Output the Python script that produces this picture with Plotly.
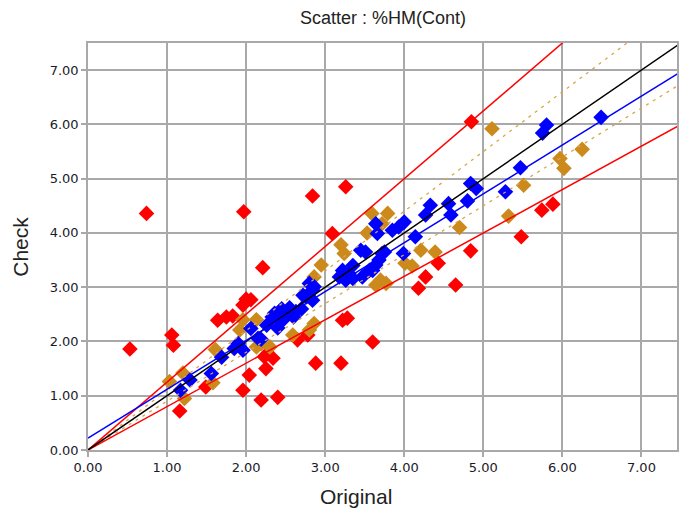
import plotly.graph_objects as go
import numpy as np

# ---- data ----
red_x = [0.53, 0.74, 1.06, 1.08, 1.16, 1.49, 1.64, 1.75, 1.83, 1.96, 2.00, 2.06, 1.97, 1.96, 2.04,
         2.19, 2.21, 2.25, 2.23, 2.34, 2.40, 2.65, 2.78, 2.84, 2.88, 3.09, 3.20, 3.22, 3.28, 3.26,
         3.60, 4.18, 4.27, 4.43, 4.65, 4.84, 4.85, 5.48, 5.74, 5.88]
red_y = [1.86, 4.36, 2.12, 1.93, 0.72, 1.16, 2.39, 2.45, 2.47, 2.67, 2.78, 2.77, 4.39, 1.10, 1.38,
         0.92, 3.36, 1.50, 1.72, 1.69, 0.97, 2.03, 2.12, 4.68, 1.60, 3.99, 1.60, 2.39, 2.43, 4.85,
         1.99, 2.98, 3.19, 3.44, 3.04, 3.67, 6.05, 3.93, 4.42, 4.53]

orange_x = [1.03, 1.20, 1.22, 1.58, 1.61, 1.92, 1.96, 2.13, 2.13, 2.30, 2.19, 2.59, 2.80, 2.86,
            2.86, 2.95, 3.20, 3.24, 3.53, 3.59, 3.64, 3.70, 3.77, 3.72, 3.79, 4.01, 4.10, 4.21,
            4.39, 4.70, 5.11, 5.32, 5.51, 5.97, 6.02, 6.25]
orange_y = [1.26, 1.42, 0.95, 1.24, 1.85, 2.21, 2.40, 2.40, 1.90, 1.90, 1.96, 2.12, 2.21, 2.33,
            3.19, 3.41, 3.78, 3.62, 4.00, 4.36, 3.04, 3.13, 3.07, 4.17, 4.36, 3.44, 3.39, 3.68,
            3.65, 4.10, 5.92, 4.31, 4.88, 5.37, 5.19, 5.54]

blue_x = [1.17, 1.29, 1.56, 1.69, 1.85, 1.90, 1.96, 2.06, 2.15, 2.19, 2.26, 2.33, 2.36, 2.42,
          2.47, 2.50, 2.55, 2.60, 2.63, 2.40, 2.45, 2.70, 2.72, 2.80, 2.84, 2.86, 2.76, 2.80,
          2.84, 3.18, 3.22, 3.26, 3.30, 3.35, 3.47, 3.56, 3.35, 3.45, 3.51, 3.60, 3.64, 3.68,
          3.72, 3.75, 3.64, 3.66, 3.85, 3.93, 4.00, 3.99, 4.14, 4.27, 4.33, 4.56, 4.59, 4.80,
          4.84, 4.91, 5.28, 5.47, 5.75, 5.80, 6.49]
blue_y = [1.10, 1.29, 1.41, 1.71, 1.87, 1.96, 1.84, 2.24, 2.06, 2.04, 2.30, 2.45, 2.52, 2.55,
          2.40, 2.50, 2.62, 2.45, 2.55, 2.25, 2.60, 2.60, 2.85, 2.82, 2.76, 3.01, 2.82, 3.07,
          2.95, 3.19, 3.31, 3.13, 3.25, 3.16, 3.19, 3.31, 3.40, 3.68, 3.65, 3.31, 3.41, 3.50,
          3.62, 3.65, 4.17, 3.99, 4.05, 4.11, 4.20, 3.62, 3.93, 4.33, 4.51, 4.54, 4.33, 4.59,
          4.91, 4.82, 4.76, 5.20, 5.84, 5.99, 6.13]

# reference lines: slopes (and regression intercept)
outer_hi, outer_lo = 1.25, 0.80
inner_hi, inner_lo = 1.10, 0.90
reg_slope, reg_intercept = 0.90, 0.22

x_ticks = [0, 1, 2, 3, 4, 5, 6, 7]
y_ticks = [0, 1, 2, 3, 4, 5, 6, 7]

RED = "#ff0000"
ORANGE = "#cc8a1c"
BLUE = "#0000ff"
TXT = "#222222"

fig = go.Figure()

mk = dict(symbol="diamond", size=12, line=dict(width=0))
fig.add_trace(go.Scatter(x=red_x, y=red_y, mode="markers", marker=dict(color=RED, **mk)))
fig.add_trace(go.Scatter(x=orange_x, y=orange_y, mode="markers", marker=dict(color=ORANGE, **mk)))
fig.add_trace(go.Scatter(x=blue_x, y=blue_y, mode="markers", marker=dict(color=BLUE, **mk)))

xl = np.array([0.0, 8.0])
fig.add_trace(go.Scatter(x=xl, y=inner_hi * xl, mode="lines", line=dict(color="#dba44c", width=1.3, dash="3px,5px")))
fig.add_trace(go.Scatter(x=xl, y=inner_lo * xl, mode="lines", line=dict(color="#dba44c", width=1.3, dash="3px,5px")))
fig.add_trace(go.Scatter(x=xl, y=outer_hi * xl, mode="lines", line=dict(color=RED, width=1.5)))
fig.add_trace(go.Scatter(x=xl, y=outer_lo * xl, mode="lines", line=dict(color=RED, width=1.5)))
fig.add_trace(go.Scatter(x=xl, y=xl, mode="lines", line=dict(color="black", width=1.5)))
fig.add_trace(go.Scatter(x=xl, y=reg_intercept + reg_slope * xl, mode="lines", line=dict(color=BLUE, width=1.5)))

axis_common = dict(
    showgrid=True, gridcolor="#a9a9a9", gridwidth=1.5,
    showline=True, linecolor="#a9a9a9", linewidth=1.5, mirror=True,
    ticks="outside", ticklen=5, tickcolor="#a9a9a9", tickwidth=1.5,
    tickformat=".2f", zeroline=False,
    tickfont=dict(family="DejaVu Sans", size=13, color="#1a1a2a"),
)

fig.update_layout(
    width=679, height=512,
    margin=dict(l=88, r=0, t=43, b=62),
    paper_bgcolor="white", plot_bgcolor="white",
    showlegend=False,
    title=dict(text="Scatter : %HM(Cont)", x=0.564, xanchor="center", y=0.966, yanchor="middle",
               font=dict(family="Liberation Sans", size=18, color=TXT)),
    xaxis=dict(range=[0, 7.45], tickvals=x_ticks, **axis_common),
    yaxis=dict(range=[0, 7.5], tickvals=y_ticks, **axis_common),
    annotations=[
        dict(text="Original", xref="paper", yref="paper", x=0.455, y=-0.115,
             xanchor="center", yanchor="middle", showarrow=False,
             font=dict(family="Liberation Sans", size=21, color=TXT)),
        dict(text="Check", xref="paper", yref="paper", x=-0.115, y=0.50,
             xanchor="center", yanchor="middle", showarrow=False, textangle=-90,
             font=dict(family="Liberation Sans", size=21, color=TXT)),
    ],
)

fig.write_html("out.html")
